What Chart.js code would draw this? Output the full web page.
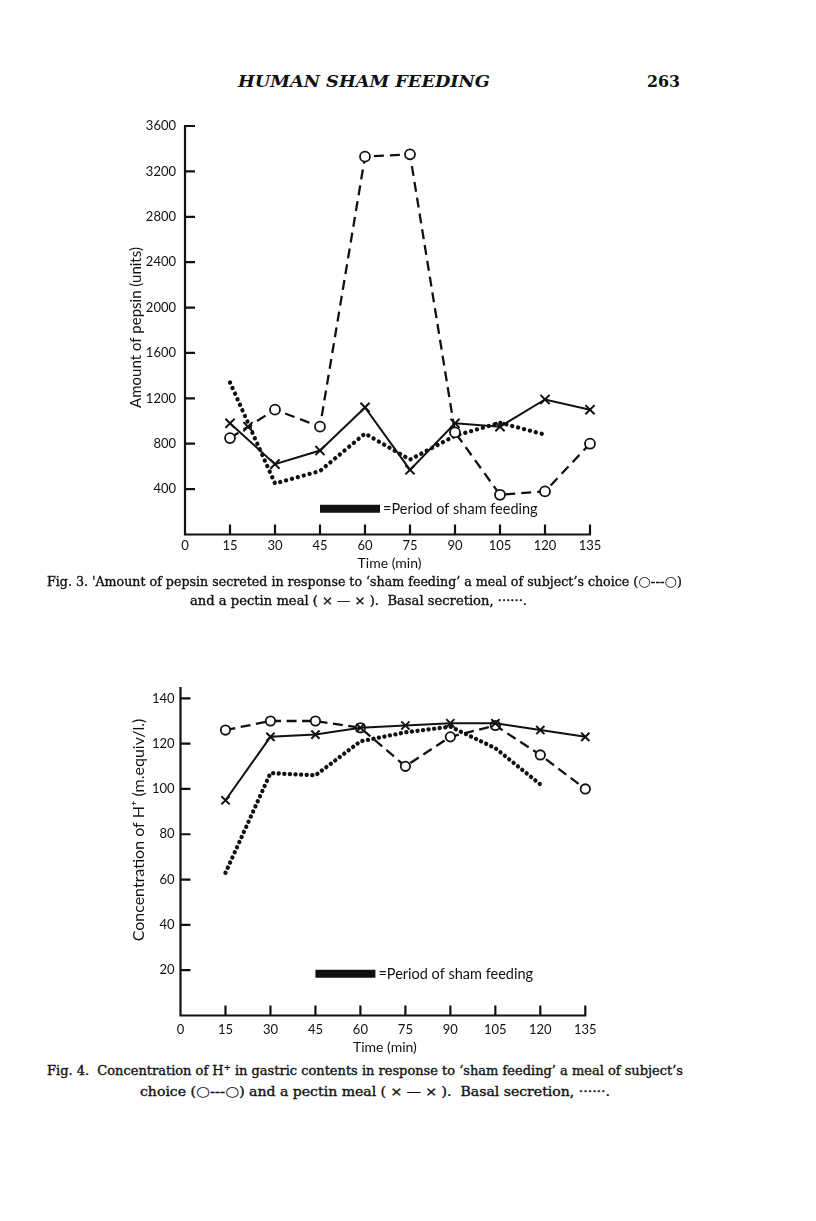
<!DOCTYPE html>
<html><head><meta charset="utf-8">
<script src="https://cdn.jsdelivr.net/npm/chart.js@4.4.1/dist/chart.umd.min.js"></script>
<style>
html,body{margin:0;padding:0;background:#fff;}
body{width:816px;height:1221px;position:relative;overflow:hidden;color:#111;}
.fit{position:absolute;white-space:nowrap;line-height:20px;transform-origin:0 50%;font-family:"DejaVu Serif",serif;font-size:12.3px;-webkit-text-stroke:0.35px #111;}
.fit sup{font-size:8px;line-height:0;vertical-align:5px;}
.sym{font-family:"DejaVu Sans",sans-serif;}
.circ{font-family:"DejaVu Sans",sans-serif;font-size:14px;-webkit-text-stroke:0;}
#w1{position:absolute;left:0;top:100px;width:816px;height:490px;}
#w2{position:absolute;left:0;top:660px;width:816px;height:400px;}
</style></head><body>
<div class="fit" data-w="252" style="left:238px;top:71px;font:italic bold 17px 'DejaVu Serif';line-height:20px;-webkit-text-stroke:0;">HUMAN SHAM FEEDING</div>
<div class="fit" data-w="33" style="left:647px;top:71px;font:bold 17px 'DejaVu Serif';line-height:20px;-webkit-text-stroke:0;">263</div>
<div id="w1"><canvas id="c1" width="816" height="490"></canvas></div>
<div id="w2"><canvas id="c2" width="816" height="400"></canvas></div>
<div class="fit" data-w="635" style="left:47px;top:571px;">Fig. 3. 'Amount of pepsin secreted in response to ‘sham feeding’ a meal of subject’s choice (<span class="circ">○</span><span class="sym">---</span><span class="circ">○</span>)</div>
<div class="fit" data-w="337" style="left:190px;top:591px;">and a pectin meal ( <span class="sym">×</span> — <span class="sym">×</span> ).&nbsp; Basal secretion, ······.</div>
<div class="fit" data-w="636" style="left:47px;top:1061px;">Fig. 4.&nbsp; Concentration of H<sup>+</sup> in gastric contents in response to ‘sham feeding’ a meal of subject’s</div>
<div class="fit" data-w="470" style="left:140px;top:1081px;">choice (<span class="circ">○</span><span class="sym">---</span><span class="circ">○</span>) and a pectin meal ( <span class="sym">×</span> — <span class="sym">×</span> ).&nbsp; Basal secretion, ······.</div>
<script>
// ---------- data ----------
const times = [15, 30, 45, 60, 75, 90, 105, 120, 135];
const basalTimes = [15, 30, 45, 60, 75, 90, 105, 120];
const xTickValues = [0, 15, 30, 45, 60, 75, 90, 105, 120, 135];
const xTickMarks = [15, 30, 45, 60, 75, 90, 105, 120, 135];

// Fig. 3 – amount of pepsin (units)
const pepsinChoice = [850, 1100, 950, 3330, 3350, 900, 350, 380, 800];
const pepsinPectin = [980, 620, 740, 1120, 570, 980, 950, 1190, 1100];
const pepsinBasal = [1340, 450, 560, 890, 660, 870, 985, 880];
const pepsinStrayTime = [21];
const pepsinStray = [950];
const pepsinTicks = [400, 800, 1200, 1600, 2000, 2400, 2800, 3200, 3600];

// Fig. 4 – concentration of H+ (m.equiv/l.)
const hChoice = [126, 130, 130, 127, 110, 123, 128, 115, 100];
const hPectin = [95, 123, 124, 127, 128, 129, 129, 126, 123];
const hBasal = [63, 107, 106, 121, 125, 127.5, 118, 102];
const hTicks = [20, 40, 60, 80, 100, 120, 140];

// period of sham feeding (min) and the level where its key bar sits
const shamPeriod = [45, 65];
const shamLevelPepsin = 227;
const shamLevelH = 18.4;

const INK = '#111';
const xy = (xs, ys) => ys.map((v, i) => ({x: xs[i], y: v}));

const framePlugin = {
  id: 'frame',
  beforeDatasetsDraw(chart) {
    const o = chart.options.plugins.frame;
    const {ctx, chartArea: a, scales: {x, y}} = chart;
    ctx.save();
    ctx.strokeStyle = INK; ctx.lineWidth = 2.2; ctx.lineCap = 'butt';
    ctx.beginPath();
    ctx.moveTo(a.left, a.top); ctx.lineTo(a.left, a.bottom); ctx.lineTo(a.right + 1, a.bottom);
    xTickMarks.forEach(v => { const p = x.getPixelForValue(v); ctx.moveTo(p, a.bottom); ctx.lineTo(p, a.bottom - o.tickLen); });
    o.yMarks.forEach(v => { const p = y.getPixelForValue(v); ctx.moveTo(a.left - 1, p); ctx.lineTo(a.left + o.tickLen, p); });
    ctx.stroke();
    ctx.fillStyle = INK;
    // x title
    ctx.font = '14px Lato';
    ctx.textAlign = 'center'; ctx.textBaseline = 'middle';
    ctx.fillText('Time (min)', (a.left + a.right) / 2 + 2, a.bottom + o.xTitleDy);
    // y title
    ctx.save();
    ctx.translate(o.yTitleX, o.yTitleY);
    ctx.rotate(-Math.PI / 2);
    ctx.font = o.yTitleFont;
    ctx.fillText(o.yTitle, 0, 0);
    ctx.restore();
    // key text
    ctx.font = '14.5px Lato';
    ctx.textAlign = 'left';
    ctx.fillText('=Period of sham feeding', x.getPixelForValue(shamPeriod[1]) + 3, y.getPixelForValue(o.shamLevel) + 1);
    ctx.restore();
  }
};

function makeChart(id, cfg) {
  const datasets = [
    {label: 'Pectin meal', data: xy(times, cfg.pectin), borderColor: INK, borderWidth: 2,
     pointStyle: 'crossRot', pointRadius: cfg.crossR, pointBorderWidth: 2, pointBorderColor: INK, pointBackgroundColor: INK, clip: false},
    {label: 'Stray mark', data: xy(cfg.strayT || [], cfg.stray || []), showLine: false, borderColor: INK,
     pointStyle: 'crossRot', pointRadius: cfg.crossR, pointBorderWidth: 2, pointBorderColor: INK, clip: false},
    {label: "Meal of subject's choice", data: xy(times, cfg.choice), borderColor: INK, borderWidth: 2.3, borderDash: cfg.dash,
     pointStyle: 'circle', pointRadius: cfg.circR, pointBorderWidth: 1.8, pointBorderColor: INK, pointBackgroundColor: '#fff', clip: false},
    {label: 'Basal secretion', data: xy(basalTimes, cfg.basal), borderColor: INK, borderWidth: 4.3,
     borderDash: [0.1, cfg.dotGap], borderCapStyle: 'round', pointRadius: 0, clip: false},
    {label: 'Period of sham feeding', data: xy(shamPeriod, [cfg.shamLevel, cfg.shamLevel]), borderColor: INK,
     borderWidth: 8, borderCapStyle: 'butt', pointRadius: 0, clip: false}
  ];
  const tickFont = {family: 'Lato', size: 13};
  return new Chart(document.getElementById(id), {
    type: 'line',
    data: {datasets},
    plugins: [framePlugin],
    options: {
      responsive: false, animation: false, devicePixelRatio: 1,
      layout: {padding: cfg.pad},
      plugins: {
        legend: {display: false}, tooltip: {enabled: false},
        frame: {tickLen: 10, yMarks: cfg.yTicks, yTitle: cfg.yTitle, yTitleX: cfg.yTitleX, yTitleY: cfg.yTitleY,
                yTitleFont: cfg.yTitleFont, xTitleDy: cfg.xTitleDy, shamLevel: cfg.shamLevel}
      },
      scales: {
        x: {type: 'linear', min: 0, max: 135,
            afterBuildTicks: s => { s.ticks = xTickValues.map(v => ({value: v})); },
            afterFit: s => { s.height = 30; },
            grid: {display: false, drawTicks: false}, border: {display: false},
            ticks: {font: tickFont, color: INK, padding: cfg.xPad, maxRotation: 0, autoSkip: false,
                    callback: v => String(v)}},
        y: {type: 'linear', min: 0, max: cfg.yMax,
            afterBuildTicks: s => { s.ticks = cfg.yTicks.map(v => ({value: v})); },
            afterFit: s => { s.width = 60; },
            grid: {display: false, drawTicks: false}, border: {display: false},
            ticks: {font: tickFont, color: INK, padding: cfg.yPad, autoSkip: false, callback: v => String(v)}}
      }
    }
  });
}

function fitText() {
  document.querySelectorAll('.fit').forEach(el => {
    const w = parseFloat(el.dataset.w);
    const actual = el.getBoundingClientRect().width;
    if (actual > 0) el.style.transform = 'scaleX(' + (w / actual) + ')';
  });
}

function draw() {
  fitText();
  makeChart('c1', {
    pectin: pepsinPectin, choice: pepsinChoice, basal: pepsinBasal, strayT: pepsinStrayTime, stray: pepsinStray,
    yTicks: pepsinTicks, yMax: 3600, shamLevel: shamLevelPepsin,
    crossR: 6.5, circR: 5, dash: [10, 6], dotGap: 6,
    pad: {left: 125, right: 226, top: 26, bottom: 25.5},
    yTitle: 'Amount of pepsin (units)', yTitleX: 136, yTitleY: 227.5, yTitleFont: '15px Lato',
    xTitleDy: 29, xPad: 4, yPad: 9
  });
  makeChart('c2', {
    pectin: hPectin, choice: hChoice, basal: hBasal,
    yTicks: hTicks, yMax: 145, shamLevel: shamLevelH,
    crossR: 5.8, circR: 4.7, dash: [10, 5.5], dotGap: 5.5,
    pad: {left: 120.5, right: 230.7, top: 27, bottom: 14.5},
    yTitle: 'Concentration of H\u207A (m.equiv/l.)', yTitleX: 139, yTitleY: 170, yTitleFont: '16px Lato',
    xTitleDy: 32, xPad: 7, yPad: 6
  });
}

Promise.all([
  document.fonts.load('12px Lato'), document.fonts.load('12px "DejaVu Serif"'),
  document.fonts.load('italic bold 17px "DejaVu Serif"'), document.fonts.load('bold 17px "DejaVu Serif"')
]).then(draw, draw);
</script>
</body></html>
